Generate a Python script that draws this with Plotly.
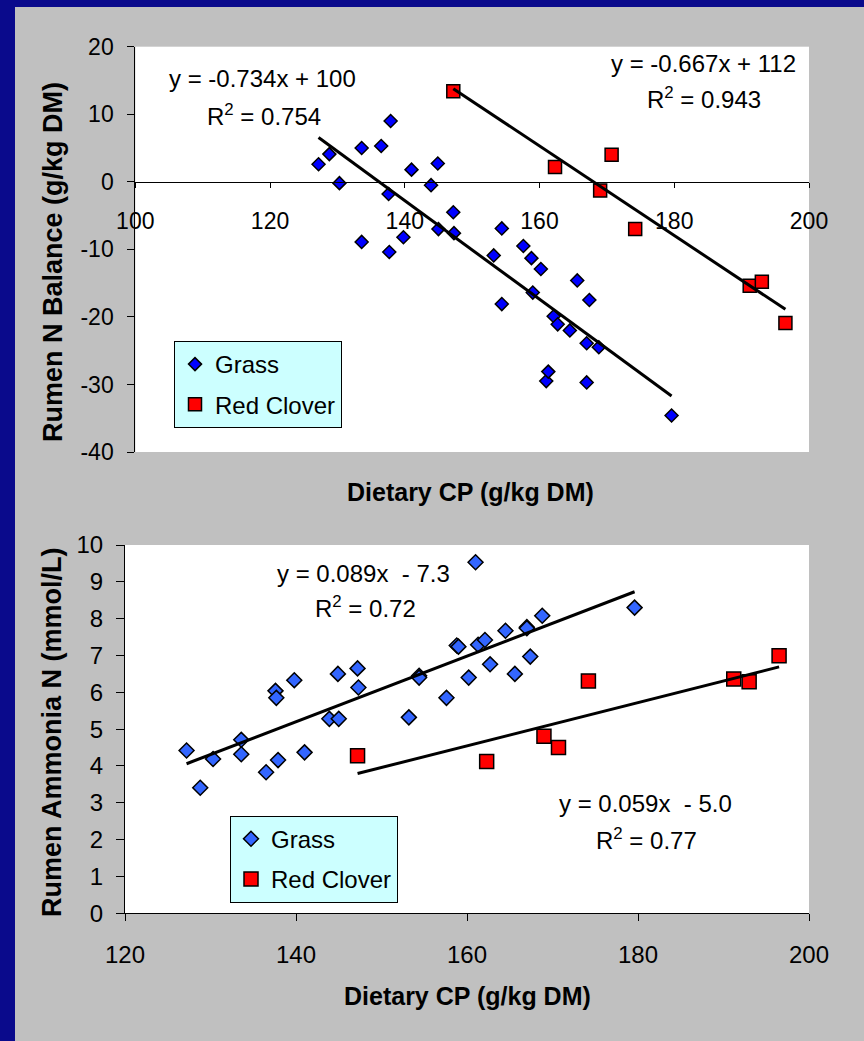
import numpy as np
import plotly.graph_objects as go

# ---------------- data ----------------
grass_cp = [127.2, 128.8, 130.3, 133.6, 133.6, 136.5, 137.9, 137.6, 137.7, 139.8,
            141.0, 143.9, 144.9, 145.0, 147.2, 147.3, 153.2, 154.4, 154.4, 157.6,
            158.8, 159.0, 160.2, 161.0, 161.3, 162.1, 162.7, 164.5, 165.6, 167.0,
            167.0, 167.4, 168.8, 179.6]
grass_n_balance = [2.6, 4.1, -0.2, 5.0, -8.9, 5.3, 9.0, -1.8, -10.4, -8.2,
                   1.8, -0.5, 2.7, -7.0, -4.5, -7.6, -10.9, -6.9, -18.1, -9.5,
                   -11.3, -16.4, -12.9, -29.5, -28.1, -19.9, -21.1, -22.0, -14.6, -23.9,
                   -29.7, -17.5, -24.5, -34.6]
grass_ammonia = [4.42, 3.41, 4.19, 4.71, 4.32, 3.83, 4.16, 6.04, 5.85, 6.33,
                 4.37, 5.28, 6.50, 5.28, 6.65, 6.13, 5.32, 6.45, 6.40, 5.85,
                 7.27, 7.24, 6.40, 9.53, 7.29, 7.42, 6.76, 7.67, 6.50, 7.77,
                 7.74, 6.97, 8.08, 8.30]

clover_cp = [147.2, 162.3, 169.0, 170.7, 174.2, 191.2, 193.0, 196.5]
clover_n_balance = [13.4, 2.2, -1.3, 4.0, -7.0, -15.4, -14.8, -20.9]
clover_ammonia = [4.28, 4.12, 4.81, 4.50, 6.31, 6.36, 6.29, 6.99]

series_names = ["Grass", "Red Clover"]

top_yticks = [-40, -30, -20, -10, 0, 10, 20]
top_yticklabels = ["-40", "-30", "-20", "-10", "0", "10", "20"]
top_xticks = [100, 120, 140, 160, 180, 200]
bot_xticks = [120, 140, 160, 180, 200]
bot_yticks = list(range(0, 11))

top_equations = ["y = -0.734x + 100", "R<sup>2</sup> = 0.754",
                 "y = -0.667x + 112", "R<sup>2</sup> = 0.943"]
bot_equations = ["y = 0.089x  - 7.3", "R<sup>2</sup> = 0.72",
                 "y = 0.059x  - 5.0", "R<sup>2</sup> = 0.77"]

x_title = "Dietary CP (g/kg DM)"
top_y_title = "Rumen N Balance (g/kg DM)"
bot_y_title = "Rumen Ammonia N (mmol/L)"

# ---------------- layout helpers ----------------
W, H = 864, 1041
FONT = "Liberation Sans, Arial, sans-serif"


def fx(px):
    return px / W


def fy(py):
    return 1 - py / H


def trend(x, y):
    k, b = np.polyfit(x, y, 1)
    xs = np.array([min(x), max(x)])
    return xs, k * xs + b


fig = go.Figure()

# ---- top panel ----
fig.add_trace(go.Scatter(
    x=grass_cp, y=grass_n_balance, mode="markers", name=series_names[0],
    marker=dict(symbol="diamond", size=10, color="#0000FF",
                line=dict(color="black", width=1.5)),
    xaxis="x", yaxis="y", legend="legend", legendgroup="g1"))
fig.add_trace(go.Scatter(
    x=clover_cp, y=clover_n_balance, mode="markers", name=series_names[1],
    marker=dict(symbol="square", size=13, color="#FF0000",
                line=dict(color="black", width=1.5)),
    xaxis="x", yaxis="y", legend="legend", legendgroup="c1"))
for xs, ys in (trend(grass_cp, grass_n_balance), trend(clover_cp, clover_n_balance)):
    fig.add_trace(go.Scatter(x=xs, y=ys, mode="lines", showlegend=False,
                             line=dict(color="black", width=3),
                             xaxis="x", yaxis="y", hoverinfo="skip"))

# ---- bottom panel ----
fig.add_trace(go.Scatter(
    x=grass_cp, y=grass_ammonia, mode="markers", name=series_names[0],
    marker=dict(symbol="diamond", size=11.5, color="#3366FF",
                line=dict(color="black", width=1.5)),
    xaxis="x2", yaxis="y2", legend="legend2", legendgroup="g2"))
fig.add_trace(go.Scatter(
    x=clover_cp, y=clover_ammonia, mode="markers", name=series_names[1],
    marker=dict(symbol="square", size=14, color="#FF0000",
                line=dict(color="black", width=1.5)),
    xaxis="x2", yaxis="y2", legend="legend2", legendgroup="c2"))
for xs, ys in (trend(grass_cp, grass_ammonia), trend(clover_cp, clover_ammonia)):
    fig.add_trace(go.Scatter(x=xs, y=ys, mode="lines", showlegend=False,
                             line=dict(color="black", width=3),
                             xaxis="x2", yaxis="y2", hoverinfo="skip"))

axis_common = dict(showgrid=False, zeroline=False, showline=True,
                   linecolor="black", linewidth=1, ticks="outside",
                   tickcolor="black", tickwidth=1, automargin=False)

legend_common = dict(bgcolor="#CCFFFF", bordercolor="black", borderwidth=1,
                     font=dict(family=FONT, size=24, color="black"),
                     xanchor="left", yanchor="top", traceorder="grouped",
                     tracegroupgap=6, itemwidth=30)

annotations = []
top_pos = [(118.9, 15.3), (119.1, 9.9), (184.3, 17.5), (184.4, 12.4)]
for t, (ax_, ay_) in zip(top_equations, top_pos):
    annotations.append(dict(text=t, x=ax_, y=ay_, xref="x", yref="y",
                            showarrow=False, xanchor="center", yanchor="middle",
                            font=dict(family=FONT, size=24, color="black")))
bot_pos = [(147.95, 9.23), (148.1, 8.31), (180.9, 2.99), (181.05, 2.01)]
for t, (ax_, ay_) in zip(bot_equations, bot_pos):
    annotations.append(dict(text=t, x=ax_, y=ay_, xref="x2", yref="y2",
                            showarrow=False, xanchor="center", yanchor="middle",
                            font=dict(family=FONT, size=24, color="black")))

title_font = dict(family=FONT, size=25, color="black")
annotations += [
    dict(text="<b>" + x_title + "</b>", x=fx(471), y=fy(492), xref="paper", yref="paper",
         showarrow=False, xanchor="center", yanchor="middle", font=title_font),
    dict(text="<b>" + x_title + "</b>", x=fx(467), y=fy(996), xref="paper", yref="paper",
         showarrow=False, xanchor="center", yanchor="middle", font=title_font),
    dict(text="<b>" + top_y_title + "</b>", x=fx(53), y=fy(262), xref="paper", yref="paper",
         showarrow=False, xanchor="center", yanchor="middle", textangle=-90,
         font=dict(family=FONT, size=27, color="black")),
    dict(text="<b>" + bot_y_title + "</b>", x=fx(52), y=fy(732), xref="paper", yref="paper",
         showarrow=False, xanchor="center", yanchor="middle", textangle=-90,
         font=dict(family=FONT, size=27, color="black")),
]

fig.update_layout(
    width=W, height=H, margin=dict(l=0, r=0, t=0, b=0),
    paper_bgcolor="#C0C0C0", plot_bgcolor="white",
    font=dict(family=FONT, color="black"),
    showlegend=True,
    xaxis=dict(axis_common, domain=[fx(135.3), fx(809)], range=[100, 200],
               anchor="free", position=fy(181.7), tickvals=top_xticks,
               ticklen=5, ticklabelstandoff=14,
               tickfont=dict(family=FONT, size=23, color="black")),
    yaxis=dict(axis_common, domain=[fy(452), fy(46.7)], range=[-40, 20],
               anchor="x", tickvals=top_yticks, ticktext=top_yticklabels,
               ticklen=7, ticklabelstandoff=9,
               tickfont=dict(family=FONT, size=23, color="black")),
    xaxis2=dict(axis_common, domain=[fx(125), fx(809)], range=[120, 200],
                anchor="y2", tickvals=bot_xticks, ticklen=7, ticklabelstandoff=13,
                tickfont=dict(family=FONT, size=24, color="black")),
    yaxis2=dict(axis_common, domain=[fy(913.3), fy(545)], range=[0, 10],
                anchor="x2", tickvals=bot_yticks, ticklen=8, ticklabelstandoff=8,
                tickfont=dict(family=FONT, size=24, color="black")),
    legend=dict(legend_common, x=fx(174), y=fy(341)),
    legend2=dict(legend_common, x=fx(230), y=fy(815.7)),
    annotations=annotations,
    shapes=[
        dict(type="rect", xref="paper", yref="paper", x0=0, x1=fx(15), y0=0, y1=1,
             fillcolor="#0A0A8C", line=dict(width=0), layer="below"),
        dict(type="rect", xref="paper", yref="paper", x0=0, x1=1, y0=fy(7), y1=1,
             fillcolor="#0A0A8C", line=dict(width=0), layer="below"),
    ],
)

fig.write_html("out.html", config={"displayModeBar": False},
               post_script="document.body.style.margin='0';document.body.style.overflow='hidden';")
